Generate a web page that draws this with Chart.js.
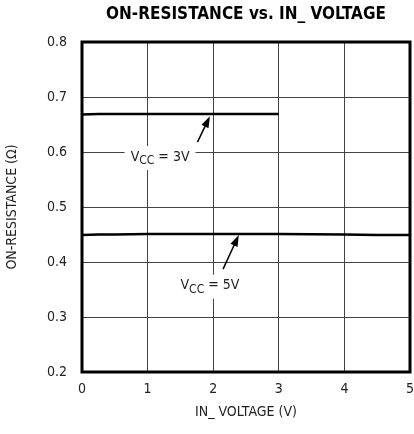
<!DOCTYPE html>
<html>
<head>
<meta charset="utf-8">
<script src="https://cdn.jsdelivr.net/npm/chart.js@4"></script>
<style>
  html, body { margin: 0; padding: 0; background: #fff; }
  #wrap { width: 414px; height: 434px; }
</style>
</head>
<body>
<div id="wrap"><canvas id="chart"></canvas></div>
<script>
// Data
const voltage3V = [0, 0.25, 0.5, 1, 1.5, 2, 2.5, 3];
const resist3V = [0.668, 0.669, 0.669, 0.669, 0.669, 0.669, 0.669, 0.669];
const voltage5V = [0, 0.25, 0.5, 1, 2, 3, 4, 4.5, 5];
const resist5V = [0.449, 0.450, 0.450, 0.451, 0.451, 0.451, 0.450, 0.449, 0.449];
const xTicks = [0, 1, 2, 3, 4, 5];
const yTicks = [0.2, 0.3, 0.4, 0.5, 0.6, 0.7, 0.8];
const chartTitle = 'ON-RESISTANCE vs. IN_ VOLTAGE';

// Curve labels: text position and arrow tail/head, in data units
const notes = [
    { sub: 'CC', tail: ' = 3V', x: 1.19, y: 0.589, ax: 1.76, ay: 0.618, hx: 1.95, hy: 0.665 },
    { sub: 'CC', tail: ' = 5V', x: 1.95, y: 0.355, ax: 2.15, ay: 0.387, hx: 2.39, hy: 0.449 }
];

const FONT = '"DejaVu Sans Condensed", "Liberation Sans", sans-serif';

const notePlugin = {
    id: 'notes',
    afterDatasetsDraw(chart) {
        const c = chart.ctx;
        const xs = chart.scales.x, ys = chart.scales.y;
        notes.forEach(n => {
            const px = xs.getPixelForValue(n.x), py = ys.getPixelForValue(n.y);
            c.save();
            c.font = '14px ' + FONT;
            const wV = c.measureText('V').width;
            const wT = c.measureText(n.tail).width;
            c.font = '12px ' + FONT;
            const wS = c.measureText(n.sub).width;
            const w = wV + wS + wT;
            // white box that breaks the grid
            c.fillStyle = '#fff';
            c.fillRect(px - w / 2 - 6, py - 12, w + 12, 24);
            c.fillStyle = '#222';
            c.textBaseline = 'middle';
            c.textAlign = 'left';
            let x0 = px - w / 2;
            c.font = '14px ' + FONT;
            c.fillText('V', x0, py - 1);
            c.font = '12px ' + FONT;
            c.fillText(n.sub, x0 + wV, py + 3);
            c.font = '14px ' + FONT;
            c.fillText(n.tail, x0 + wV + wS, py - 1);
            // arrow
            const ax = xs.getPixelForValue(n.ax), ay = ys.getPixelForValue(n.ay);
            const hx = xs.getPixelForValue(n.hx), hy = ys.getPixelForValue(n.hy);
            const ang = Math.atan2(hy - ay, hx - ax);
            const len = 12;
            c.strokeStyle = '#000';
            c.lineWidth = 1.5;
            c.beginPath();
            c.moveTo(ax, ay);
            c.lineTo(hx - Math.cos(ang) * len * 0.8, hy - Math.sin(ang) * len * 0.8);
            c.stroke();
            c.fillStyle = '#000';
            c.beginPath();
            c.moveTo(hx, hy);
            c.lineTo(hx - len * Math.cos(ang - 0.33), hy - len * Math.sin(ang - 0.33));
            c.lineTo(hx - len * Math.cos(ang + 0.33), hy - len * Math.sin(ang + 0.33));
            c.closePath();
            c.fill();
            c.restore();
        });
    },
    afterDraw(chart) {
        const a = chart.chartArea, c = chart.ctx;
        c.save();
        // heavy frame round the plot
        c.strokeStyle = '#000';
        c.lineWidth = 3;
        c.strokeRect(a.left, a.top, a.right - a.left, a.bottom - a.top);
        // title centred over the plot area
        c.fillStyle = '#000';
        c.font = 'bold 17px ' + FONT;
        c.textAlign = 'center';
        c.textBaseline = 'middle';
        c.fillText(chartTitle, (a.left + a.right) / 2, 15);
        c.restore();
    }
};

const ctx = document.getElementById('chart').getContext('2d');

new Chart(ctx, {
    type: 'scatter',
    data: {
        datasets: [
            {
                data: voltage3V.map((v, i) => ({ x: v, y: resist3V[i] })),
                showLine: true,
                borderColor: '#000',
                borderWidth: 2.5,
                pointRadius: 0
            },
            {
                data: voltage5V.map((v, i) => ({ x: v, y: resist5V[i] })),
                showLine: true,
                borderColor: '#000',
                borderWidth: 2.5,
                pointRadius: 0
            }
        ]
    },
    options: {
        responsive: true,
        maintainAspectRatio: false,
        animation: false,
        layout: { padding: { left: 0, right: 4, top: 42, bottom: 9 } },
        scales: {
            x: {
                type: 'linear',
                min: 0,
                max: 5,
                afterBuildTicks: s => { s.ticks = xTicks.map(v => ({ value: v })); },
                afterFit: s => { s.height = 53; s.paddingLeft = 0; s.paddingRight = 0; },
                ticks: {
                    color: '#222',
                    font: { family: FONT, size: 14 },
                    padding: 9
                },
                grid: { color: '#444', lineWidth: 1, drawTicks: false },
                border: { display: false },
                title: {
                    display: true,
                    text: 'IN_ VOLTAGE (V)',
                    color: '#222',
                    font: { family: FONT, size: 14 },
                    padding: { top: 6 }
                }
            },
            y: {
                min: 0.2,
                max: 0.8,
                afterBuildTicks: s => { s.ticks = yTicks.map(v => ({ value: v })); },
                afterFit: s => { s.width = 82; s.paddingTop = 0; s.paddingBottom = 0; },
                ticks: {
                    color: '#222',
                    font: { family: FONT, size: 14 },
                    padding: 15,
                    callback: v => v.toFixed(1)
                },
                grid: { color: '#444', lineWidth: 1, drawTicks: false },
                border: { display: false },
                title: {
                    display: true,
                    text: 'ON-RESISTANCE (Ω)',
                    color: '#222',
                    font: { family: FONT, size: 14 },
                    padding: { bottom: 4 }
                }
            }
        },
        plugins: {
            legend: { display: false },
            tooltip: { enabled: false },
            title: { display: false }
        }
    },
    plugins: [notePlugin]
});
</script>
</body>
</html>
